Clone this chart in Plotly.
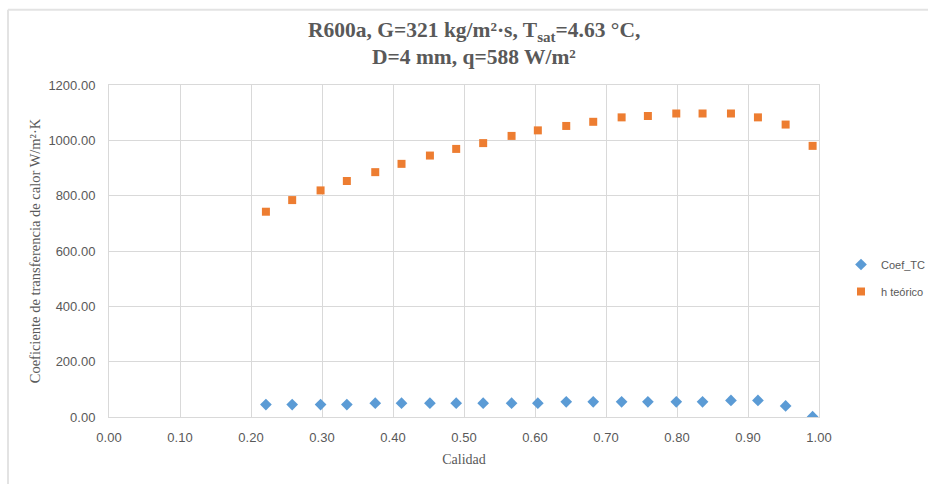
import plotly.graph_objects as go

# Vapor quality (x) and heat transfer coefficients
calidad = [0.221, 0.258, 0.298, 0.335, 0.375, 0.412, 0.452, 0.489, 0.527, 0.567, 0.604,
           0.644, 0.682, 0.722, 0.759, 0.799, 0.836, 0.876, 0.914, 0.953, 0.991]
coef_tc = [45, 45, 45, 45, 50, 50, 50, 50, 50, 50, 50,
           55, 55, 55, 55, 55, 55, 60, 60, 40, 1]
h_teorico = [742, 784, 819, 853, 885, 915, 945, 969, 990, 1016, 1036,
             1052, 1067, 1083, 1088, 1097, 1097, 1097, 1083, 1057, 980]

title_lines = ["R600a, G=321 kg/m²·s, T<sub>sat</sub>=4.63 °C,",
               "D=4 mm, q=588 W/m²"]

W, H = 928, 484
L, R, T, B = 109, 109, 84.5, 66.5
pw, ph = W - L - R, H - T - B

grid = "#d9d9d9"
txt = "#595959"
serif = "Liberation Serif, Times New Roman, serif"
sans = "Liberation Sans, Arial, sans-serif"


def px_x(p):
    return (p - L) / pw


def px_y(p):
    return (H - B - p) / ph


fig = go.Figure()
fig.add_trace(go.Scatter(
    x=calidad, y=coef_tc, mode="markers", name="Coef_TC", legendgroup="a",
    marker=dict(symbol="diamond", size=9, color="#5B9BD5", line=dict(width=0)),
))
fig.add_trace(go.Scatter(
    x=calidad, y=h_teorico, mode="markers", name="h teórico", legendgroup="b",
    marker=dict(symbol="square", size=8, color="#ED7D31", line=dict(width=0)),
))

# outer chart frame (top and left edges visible)
fig.add_shape(type="line", xref="paper", yref="paper",
              x0=px_x(8), x1=px_x(940), y0=px_y(9), y1=px_y(9),
              line=dict(color="#e3e3e3", width=2))
fig.add_shape(type="line", xref="paper", yref="paper",
              x0=px_x(8), x1=px_x(8), y0=px_y(9), y1=px_y(500),
              line=dict(color="#e3e3e3", width=2))

# two-line chart title
for line, yc in zip(title_lines, [31, 56]):
    fig.add_annotation(
        text=line, xref="paper", yref="paper", x=px_x(474), y=px_y(yc),
        xanchor="center", yanchor="middle", showarrow=False,
        font=dict(family=serif, size=21.5, color=txt, weight="bold"),
    )

fig.update_layout(
    width=W, height=H,
    margin=dict(l=L, r=R, t=T, b=B, autoexpand=False),
    paper_bgcolor="white", plot_bgcolor="white",
    xaxis=dict(
        range=[0, 1], dtick=0.1, tick0=0, tickformat=".2f",
        showgrid=True, gridcolor=grid, gridwidth=1,
        showline=True, linecolor=grid, linewidth=1, mirror=True,
        zeroline=False, ticks="", ticklabelstandoff=8,
        tickfont=dict(family=sans, size=13, color=txt),
        title=dict(text="Calidad", font=dict(family=serif, size=14, color=txt),
                   standoff=10),
    ),
    yaxis=dict(
        range=[0, 1200], dtick=200, tick0=0, tickformat=".2f",
        showgrid=True, gridcolor=grid, gridwidth=1,
        showline=True, linecolor=grid, linewidth=1, mirror=True,
        zeroline=False, ticks="", ticklabelstandoff=10,
        tickfont=dict(family=sans, size=13, color=txt),
        title=dict(text="Coeficiente de transferencia de calor W/m²·K",
                   font=dict(family=serif, size=14.5, color=txt), standoff=4),
    ),
    legend=dict(
        x=px_x(841), xanchor="left", y=px_y(250), yanchor="top",
        font=dict(family=sans, size=11, color=txt),
        bgcolor="rgba(0,0,0,0)", itemwidth=30, tracegroupgap=8,
    ),
)

fig.write_html("out.html")
